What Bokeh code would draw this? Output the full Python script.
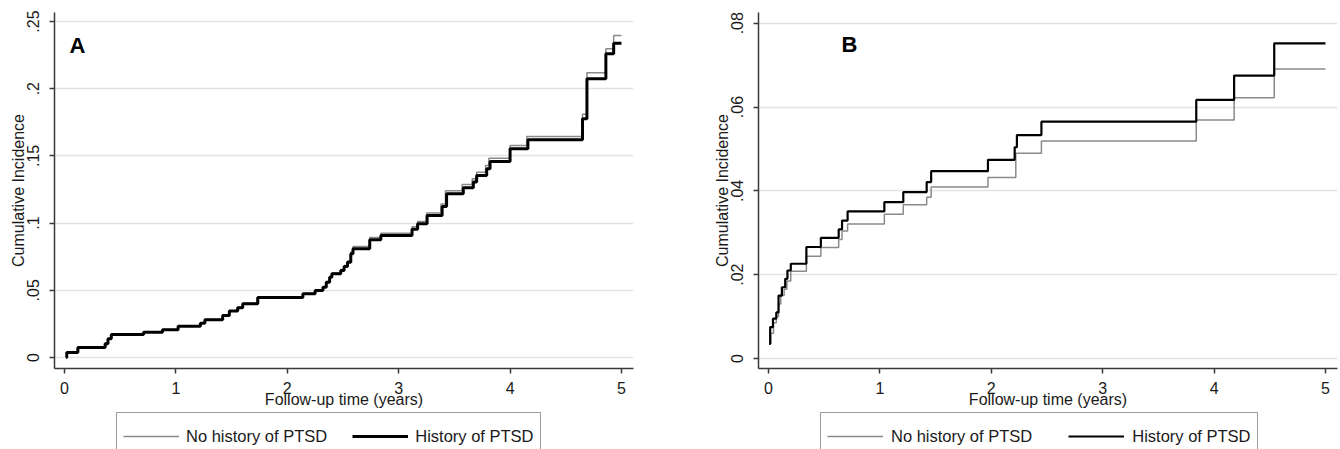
from bokeh.plotting import figure
from bokeh.layouts import row, column
from bokeh.models import Range1d, FixedTicker, Legend, LegendItem, Label
from bokeh.embed import file_html
from bokeh.resources import INLINE

# ---------------- data ----------------
x_ticks = [0, 1, 2, 3, 4, 5]

a_yticks = [0, 0.05, 0.10, 0.15, 0.20, 0.25]
a_ylabels = ["0", ".05", ".1", ".15", ".2", ".25"]
b_yticks = [0, 0.02, 0.04, 0.06, 0.08]
b_ylabels = ["0", ".02", ".04", ".06", ".08"]

series_labels = ["No history of PTSD", "History of PTSD"]

# Panel A - no history of PTSD (grey)
a_time_no = [0.015, 0.02, 0.12, 0.36, 0.39, 0.42, 0.71, 0.88, 1.02, 1.22, 1.26, 1.42, 1.48,
             1.55, 1.60, 1.73, 2.14, 2.25, 2.32, 2.35, 2.38, 2.40, 2.48, 2.51, 2.54, 2.57,
             2.59, 2.74, 2.84, 3.12, 3.17, 3.25, 3.38, 3.42, 3.57, 3.66, 3.70, 3.78, 3.81,
             4.00, 4.15, 4.65, 4.69, 4.86, 4.93, 5.00]
a_ci_no = [0.0, 0.0037, 0.0074, 0.0105, 0.0140, 0.0172, 0.0190, 0.0208, 0.0235, 0.0258,
           0.0283, 0.0315, 0.0348, 0.0373, 0.0403, 0.0449, 0.0477, 0.0502, 0.0527, 0.0565,
           0.0602, 0.0628, 0.0655, 0.0685, 0.0718, 0.0785, 0.0826, 0.0892, 0.0925, 0.0972,
           0.1012, 0.1075, 0.1142, 0.1240, 0.1287, 0.1330, 0.1378, 0.1428, 0.1482, 0.1578,
           0.1645, 0.1810, 0.2118, 0.2297, 0.2396, 0.2396]

# Panel A - history of PTSD (black)
a_time_hist = [0.015, 0.02, 0.12, 0.365, 0.39, 0.42, 0.71, 0.88, 1.02, 1.22, 1.26, 1.42,
               1.48, 1.555, 1.60, 1.735, 2.14, 2.25, 2.32, 2.35, 2.38, 2.40, 2.48, 2.51,
               2.54, 2.57, 2.59, 2.74, 2.84, 3.12, 3.17, 3.255, 3.39, 3.43, 3.58, 3.67,
               3.70, 3.79, 3.82, 4.00, 4.16, 4.65, 4.69, 4.86, 4.93, 5.00]
a_ci_hist = [0.0, 0.0037, 0.0074, 0.0102, 0.0139, 0.0171, 0.0188, 0.0206, 0.0233, 0.0255,
             0.0280, 0.0312, 0.0345, 0.0370, 0.0400, 0.0446, 0.0474, 0.0499, 0.0523, 0.0560,
             0.0597, 0.0623, 0.0647, 0.0677, 0.0709, 0.0772, 0.0809, 0.0876, 0.0908, 0.0955,
             0.0995, 0.1057, 0.1123, 0.1218, 0.1263, 0.1305, 0.1354, 0.1404, 0.1458, 0.1553,
             0.1620, 0.1776, 0.2074, 0.2260, 0.2339, 0.2339]

# Panel B - no history of PTSD (grey)
b_time_no = [0.005, 0.02, 0.045, 0.07, 0.09, 0.11, 0.14, 0.165, 0.20, 0.34, 0.47, 0.63,
             0.66, 0.71, 1.04, 1.21, 1.42, 1.46, 1.97, 2.22, 2.45, 3.84, 4.18, 4.54, 5.00]
b_ci_no = [0.0035, 0.0060, 0.0085, 0.0100, 0.0130, 0.0150, 0.0165, 0.0185, 0.0208, 0.0244,
           0.0265, 0.0284, 0.0304, 0.0321, 0.0344, 0.0367, 0.0385, 0.0409, 0.0432, 0.0490,
           0.0519, 0.0569, 0.0622, 0.0691, 0.0691]

# Panel B - history of PTSD (black)
b_time_hist = [0.005, 0.015, 0.04, 0.07, 0.09, 0.12, 0.15, 0.17, 0.20, 0.34, 0.47, 0.63,
               0.66, 0.71, 1.04, 1.21, 1.42, 1.46, 1.97, 2.21, 2.23, 2.45, 3.84, 4.18,
               4.54, 5.00]
b_ci_hist = [0.0035, 0.0075, 0.0095, 0.0110, 0.0150, 0.0170, 0.0190, 0.0210, 0.0226, 0.0266,
             0.0288, 0.0308, 0.0329, 0.0351, 0.0373, 0.0397, 0.0421, 0.0447, 0.0474, 0.0504,
             0.0533, 0.0565, 0.0617, 0.0675, 0.0752, 0.0752]

FONT = "Liberation Sans"
TXT = "#1a1a1a"
AX = "#3a3a3a"
GREY = "#8a8a8a"


def panel(letter, t_no, c_no, t_hist, c_hist, yticks, ylabels, y_start, y_end,
          width, border_left, border_right, letter_xy, w_hist):
    p = figure(width=width, height=412, output_backend="svg", toolbar_location=None,
               x_range=Range1d(-0.0898, 5.108), y_range=Range1d(y_start, y_end),
               min_border_left=border_left, min_border_right=border_right,
               min_border_top=12, min_border_bottom=44)
    p.outline_line_color = None
    p.background_fill_color = "white"
    p.border_fill_color = "white"
    p.xgrid.grid_line_color = None
    p.ygrid.grid_line_color = "#e3e3e3"
    p.ygrid.grid_line_width = 1.5

    for ax in (p.xaxis[0], p.yaxis[0]):
        ax.axis_line_color = AX
        ax.axis_line_width = 1.5
        ax.major_tick_line_color = AX
        ax.major_tick_line_width = 1.5
        ax.major_tick_out = 5
        ax.major_tick_in = 0
        ax.minor_tick_line_color = None
        ax.major_label_text_font = FONT
        ax.major_label_text_font_size = "16px"
        ax.major_label_text_color = TXT
        ax.axis_label_text_font = FONT
        ax.axis_label_text_font_size = "16px"
        ax.axis_label_text_font_style = "normal"
        ax.axis_label_text_color = TXT

    p.xaxis.ticker = FixedTicker(ticks=x_ticks)
    p.xaxis.axis_label = "Follow-up time (years)"
    p.xaxis.major_label_standoff = 8
    p.xaxis.axis_label_standoff = -6

    p.yaxis.ticker = FixedTicker(ticks=yticks)
    p.yaxis.major_label_overrides = {v: s for v, s in zip(yticks, ylabels)}
    p.yaxis.major_label_orientation = "vertical"
    p.yaxis.axis_label = "Cumulative Incidence"
    p.yaxis.major_label_standoff = 10
    p.yaxis.axis_label_standoff = -2

    p.step(t_no, c_no, mode="after", line_color=GREY, line_width=1.5)
    p.step(t_hist, c_hist, mode="after", line_color="#000000", line_width=w_hist)

    p.add_layout(Label(x=letter_xy[0], y=letter_xy[1], text=letter, text_font=FONT,
                       text_font_style="bold", text_font_size="22px", text_color="#000000",
                       text_baseline="top"))
    return p


def legend_strip(width, t_no, c_no, t_hist, c_hist, left, spacing, standoff, w_hist):
    # the same series drawn out of view, only to feed the legend its glyphs
    lf = figure(width=width, height=37, output_backend="svg", toolbar_location=None,
                x_axis_type=None, y_axis_type=None, min_border=0,
                x_range=Range1d(0, 5), y_range=Range1d(10, 11))
    lf.outline_line_color = None
    lf.grid.visible = False
    r_no = lf.step(t_no, c_no, mode="after", line_color=GREY, line_width=1.5)
    r_hist = lf.step(t_hist, c_hist, mode="after", line_color="#000000", line_width=w_hist)
    legend = Legend(items=[LegendItem(label=series_labels[0], renderers=[r_no]),
                           LegendItem(label=series_labels[1], renderers=[r_hist])],
                    orientation="horizontal", location=(left, -11))
    legend.label_text_font = FONT
    legend.label_text_font_size = "16.5px"
    legend.label_text_color = TXT
    legend.glyph_width = 56
    legend.glyph_height = 34
    legend.label_height = 34
    legend.label_standoff = standoff
    legend.spacing = spacing
    legend.padding = 6
    legend.margin = 0
    legend.border_line_color = AX
    legend.border_line_width = 1.2
    legend.background_fill_alpha = 0
    lf.add_layout(legend, "center")
    return lf


pa = panel("A", a_time_no, a_ci_no, a_time_hist, a_ci_hist, a_yticks, a_ylabels,
           -0.0082, 0.2567, 700, 54, 67, (0.045, 0.2418), 3)
pb = panel("B", b_time_no, b_ci_no, b_time_hist, b_ci_hist, b_yticks, b_ylabels,
           -0.00239, 0.08256, 640, 58, 3, (0.655, 0.0778), 2.2)
la = legend_strip(700, a_time_no, a_ci_no, a_time_hist, a_ci_hist, 62, 25, 7, 3)
lb = legend_strip(640, b_time_no, b_ci_no, b_time_hist, b_ci_hist, 62, 36, 8, 2.2)

layout = row(column(pa, la), column(pb, lb))
open("out.html", "w").write(file_html(layout, INLINE))
